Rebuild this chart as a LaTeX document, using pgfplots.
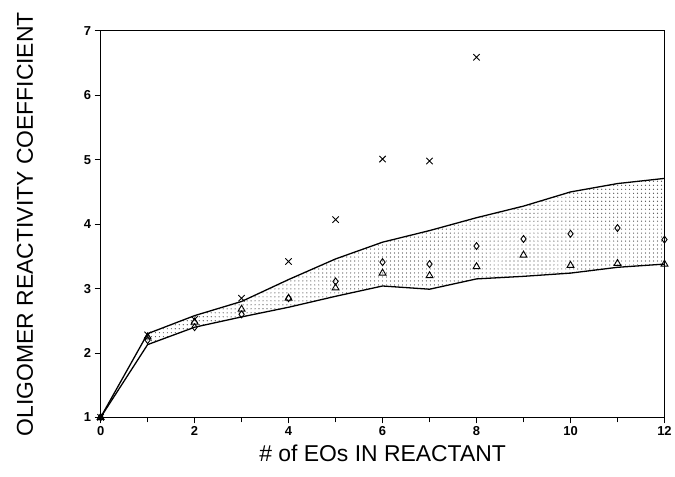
\documentclass[border=0pt]{standalone}
\usepackage{pgfplots}
\pgfplotsset{compat=1.18}
\usepackage{fontspec}
\setmainfont{Liberation Sans}
\usetikzlibrary{patterns}
% sparser dots than the stock "dots" pattern
\pgfdeclarepatternformonly{sparsedots}{\pgfqpoint{-1pt}{-1pt}}{\pgfqpoint{1pt}{1pt}}{\pgfqpoint{4pt}{4pt}}{%
    \pgfpathcircle{\pgfqpoint{0pt}{0pt}}{0.6pt}%
    \pgfusepath{fill}%
}
\begin{document}
\begin{tikzpicture}
\begin{axis}[
    name=main,
    scale only axis,
    width=566pt,
    height=388pt,
    xmin=0, xmax=12,
    ymin=1, ymax=7,
    xtick={0,2,...,12},
    minor xtick={1,3,...,11},
    ytick={1,...,7},
    tick align=outside,
    major tick length=6pt,
    minor tick length=5pt,
    xtick pos=bottom,
    ytick pos=left,
    axis line style={line width=1pt},
    tick style={line width=0.8pt, black},
    /pgf/number format/assume math mode=true,
    ticklabel style={font=\bfseries\fontsize{13}{15}\selectfont},
    xlabel={\# of EOs IN REACTANT},
    ylabel={OLIGOMER REACTIVITY COEFFICIENT},
    label style={font=\fontsize{23}{26}\selectfont},
    xlabel style={at={(axis description cs:0.5,-0.093)}, anchor=center},
    ylabel style={at={(axis description cs:-0.134,0.5)}, anchor=center},
    clip=false,
]
% dotted band
\addplot[draw=none, pattern=sparsedots, pattern color=black!75] coordinates {
    (1,2.30) (2,2.58) (3,2.80) (4,3.14) (5,3.46) (6,3.72) (7,3.90)
    (8,4.10) (9,4.28) (10,4.50) (11,4.63) (12,4.71)
    (12,3.38) (11,3.33) (10,3.24) (9,3.19) (8,3.15) (7,2.99) (6,3.04)
    (5,2.88) (4,2.71) (3,2.56) (2,2.40) (1,2.13)
} -- cycle;
% upper bound
\addplot[black, line width=1.3pt] coordinates {
    (0,1) (1,2.30) (2,2.58) (3,2.80) (4,3.14) (5,3.46) (6,3.72) (7,3.90)
    (8,4.10) (9,4.28) (10,4.50) (11,4.63) (12,4.71)
};
% lower bound
\addplot[black, line width=1.3pt] coordinates {
    (0,1) (1,2.13) (2,2.40) (3,2.56) (4,2.71) (5,2.88) (6,3.04) (7,2.99)
    (8,3.15) (9,3.19) (10,3.24) (11,3.33) (12,3.38)
};
% crosses
\addplot[only marks, mark=x, mark size=4.5pt, mark options={line width=0.9pt}] coordinates {
    (0,1) (1,2.28) (2,2.52) (3,2.85) (4,3.42) (5,4.07) (6,5.01) (7,4.98) (8,6.59)
};
% diamonds
\addplot[only marks, mark=diamond, mark size=3.5pt, mark options={line width=0.9pt}] coordinates {
    (0,1) (1,2.20) (2,2.40) (3,2.60) (4,2.85) (5,3.11) (6,3.41) (7,3.38)
    (8,3.66) (9,3.77) (10,3.85) (11,3.94) (12,3.76)
};
% triangles
\addplot[only marks, mark=triangle, mark size=4pt, mark options={line width=0.9pt}] coordinates {
    (0,1) (1,2.25) (2,2.48) (3,2.68) (4,2.85) (5,3.01) (6,3.24) (7,3.20)
    (8,3.34) (9,3.52) (10,3.36) (11,3.39) (12,3.38)
};
\end{axis}
% page frame matching the reference margins
\useasboundingbox (main.south west) ++(-101pt,-59pt) rectangle ++(675pt,478pt);
\end{tikzpicture}
\end{document}
